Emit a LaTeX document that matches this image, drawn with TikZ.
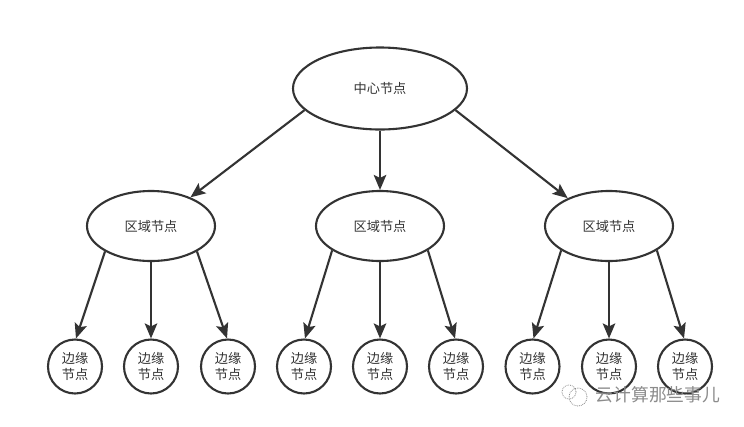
\documentclass[tikz,border=0pt]{standalone}
\usepackage{fontspec}
\setmainfont{Noto Sans CJK SC}[Scale=1]
\usetikzlibrary{shapes.geometric,arrows.meta}
\definecolor{ink}{HTML}{333333}
\definecolor{wm}{HTML}{8C8C8C}
\tikzset{
 x=1pt,y=-1pt,
 base/.style={draw=ink,line width=2.1pt,fill=white,text=ink,inner sep=0pt,font=\fontsize{13.2}{16}\selectfont,align=center},
 rootnode/.style={base,ellipse,minimum width=174pt,minimum height=82pt},
 regionnode/.style={base,ellipse,minimum width=128pt,minimum height=70pt},
 leafnode/.style={base,circle,minimum size=54pt},
 link/.style={draw=ink,line width=2.1pt,-{Stealth[length=15pt,width=12.5pt,inset=3pt]}},
 wmtext/.style={text=wm,inner sep=0pt,font=\fontsize{17.8}{20}\selectfont},
}
\begin{document}
\begin{tikzpicture}
\useasboundingbox (0,0) rectangle (744,426);
\fill[white] (0,0) rectangle (744,426);
\node[rootnode] (root) at (380,88.5) {中心节点};
\node[regionnode] (r1) at (151,226) {区域节点};
\node[regionnode] (r2) at (380,226) {区域节点};
\node[regionnode] (r3) at (609,226) {区域节点};
\foreach \n/\x in {a/75,b/151,c/228,d/304,e/380,f/456,g/532.5,h/609,i/685}
  \node[leafnode] (\n) at (\x,366.5) {边缘\\节点};
\draw[link] (root.196) -- (r1.36);
\draw[link] (root.270) -- (r2.90);
\draw[link] (root.344) -- (r3.146);
\draw[link] (r1.209) -- (a.88);
\draw[link] (r1.270) -- (b.90);
\draw[link] (r1.331) -- (c.92);
\draw[link] (r2.207) -- (d.88);
\draw[link] (r2.270) -- (e.90);
\draw[link] (r2.333) -- (f.92);
\draw[link] (r3.207) -- (g.88);
\draw[link] (r3.270) -- (h.90);
\draw[link] (r3.333) -- (i.92);
\draw[wm,line width=0.8pt,densely dotted] (569,392) circle (7pt);
\draw[wm,line width=0.8pt,densely dotted] (578,397) circle (9pt);
\node[wmtext,anchor=west] (mark) at (595.5,395) {云计算那些事儿};
\end{tikzpicture}
\end{document}
